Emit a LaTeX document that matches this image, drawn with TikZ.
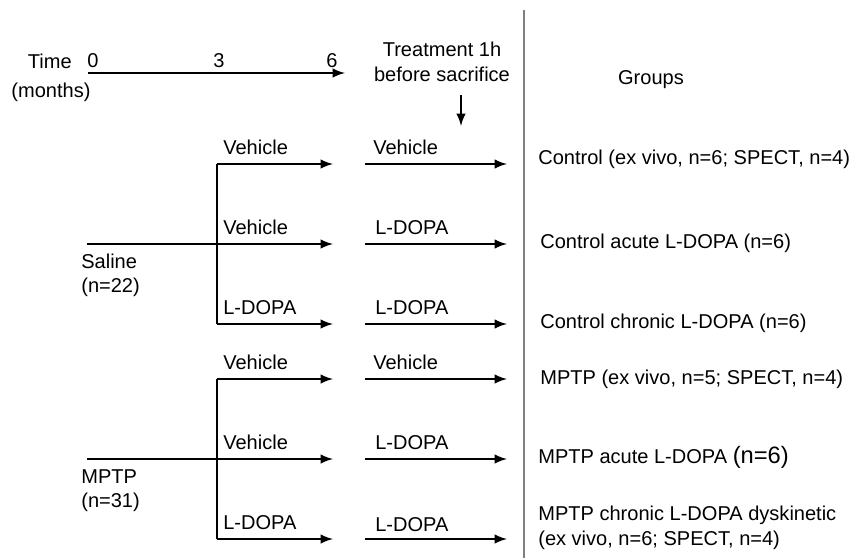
\documentclass[tikz,border=0pt]{standalone}
\usepackage{fontspec}
\setmainfont{Liberation Sans}
\begin{document}
\begin{tikzpicture}[x=0.02cm,y=-0.02cm]
\tikzset{
	fleche/.style={line width=1.4pt,->,>=latex},
	txt/.style={inner sep=0pt,anchor=base west,font=\fontsize{11.4}{14}\selectfont},
}
\useasboundingbox (0,0) rectangle (863,558);

 % axe du temps
  \coordinate (t0) at (88,73);
  \coordinate (t6) at (345,73);
  \draw[fleche] (t0) -- (t6);
  \node[txt,anchor=base east] (time) at (72,68) {Time};
  \node[txt,anchor=base] (months) at (51,97) {(months)};
  \node[txt,anchor=base] (m0) at (93,67) {0};
  \node[txt,anchor=base] (m3) at (219,67) {3};
  \node[txt,anchor=base] (m6) at (332,67) {6};

 % traitement et groupes
  \node[txt,anchor=north,align=center] (treat) at (442,42) {Treatment 1h\\before sacrifice};
  \coordinate (d0) at (461,95);
  \coordinate (d1) at (461,126);
  \draw[fleche] (d0) -- (d1);
  \node[txt,anchor=base] (groups) at (651,84) {Groups};
  \coordinate (sep0) at (524,10);
  \coordinate (sep1) at (524,558);
  \draw[gray,line width=1.1pt] (sep0) -- (sep1);

 % groupe saline
  \node[txt,anchor=north west,align=left] (saline) at (81,253.5) {Saline\\(n=22)};
  \coordinate (s0) at (87,244);
  \coordinate (sh) at (217,164);
  \coordinate (sb) at (217,324);
  \coordinate (s1a) at (333,164);
  \coordinate (s2a) at (333,244);
  \coordinate (s3a) at (333,324);
  \draw[line width=1.4pt] (sb) -- (sh);
  \draw[fleche] (sh) -- (s1a);
  \draw[fleche] (s0) -- (s2a);
  \draw[fleche] (sb) -- (s3a);
  \coordinate (s1b) at (365,164);  \coordinate (s1c) at (507,164);
  \coordinate (s2b) at (365,244);  \coordinate (s2c) at (507,244);
  \coordinate (s3b) at (365,324);  \coordinate (s3c) at (507,324);
  \draw[fleche] (s1b) -- (s1c);
  \draw[fleche] (s2b) -- (s2c);
  \draw[fleche] (s3b) -- (s3c);
  \node[txt] (sv1) at (223,154) {Vehicle};
  \node[txt] (sv2) at (223,234) {Vehicle};
  \node[txt] (sl3) at (223,314) {L-DOPA};
  \node[txt] (st1) at (373,154) {Vehicle};
  \node[txt] (st2) at (375,234) {L-DOPA};
  \node[txt] (st3) at (375,314) {L-DOPA};

 % groupe MPTP
  \node[txt,anchor=north west,align=left] (mptp) at (81,469) {MPTP\\(n=31)};
  \coordinate (p0) at (87,459);
  \coordinate (ph) at (217,379);
  \coordinate (pb) at (217,539);
  \coordinate (p1a) at (333,379);
  \coordinate (p2a) at (333,459);
  \coordinate (p3a) at (333,539);
  \draw[line width=1.4pt] (pb) -- (ph);
  \draw[fleche] (ph) -- (p1a);
  \draw[fleche] (p0) -- (p2a);
  \draw[fleche] (pb) -- (p3a);
  \coordinate (p1b) at (365,379);  \coordinate (p1c) at (507,379);
  \coordinate (p2b) at (365,459);  \coordinate (p2c) at (507,459);
  \coordinate (p3b) at (365,539);  \coordinate (p3c) at (507,539);
  \draw[fleche] (p1b) -- (p1c);
  \draw[fleche] (p2b) -- (p2c);
  \draw[fleche] (p3b) -- (p3c);
  \node[txt] (pv1) at (223,369) {Vehicle};
  \node[txt] (pv2) at (223,449) {Vehicle};
  \node[txt] (pl3) at (223,529) {L-DOPA};
  \node[txt] (pt1) at (373,369) {Vehicle};
  \node[txt] (pt2) at (375,449) {L-DOPA};
  \node[txt] (pt3) at (375,531) {L-DOPA};

% les groupes
  \node[txt] (g1) at (538,164) {Control (ex vivo, n=6; SPECT, n=4)};
  \node[txt] (g2) at (540,248) {Control acute L-DOPA (n=6)};
  \node[txt] (g3) at (540,328) {Control chronic L-DOPA (n=6)};
  \node[txt] (g4) at (540,384) {MPTP (ex vivo, n=5; SPECT, n=4)};
  \node[txt] (g5) at (538,463) {MPTP acute L-DOPA {\fontsize{13.5}{15}\selectfont(n=6)}};
  \node[txt,anchor=north west,align=left] (g6) at (538,506) {MPTP chronic L-DOPA dyskinetic\\(ex vivo, n=6; SPECT, n=4)};
\end{tikzpicture}
\end{document}
